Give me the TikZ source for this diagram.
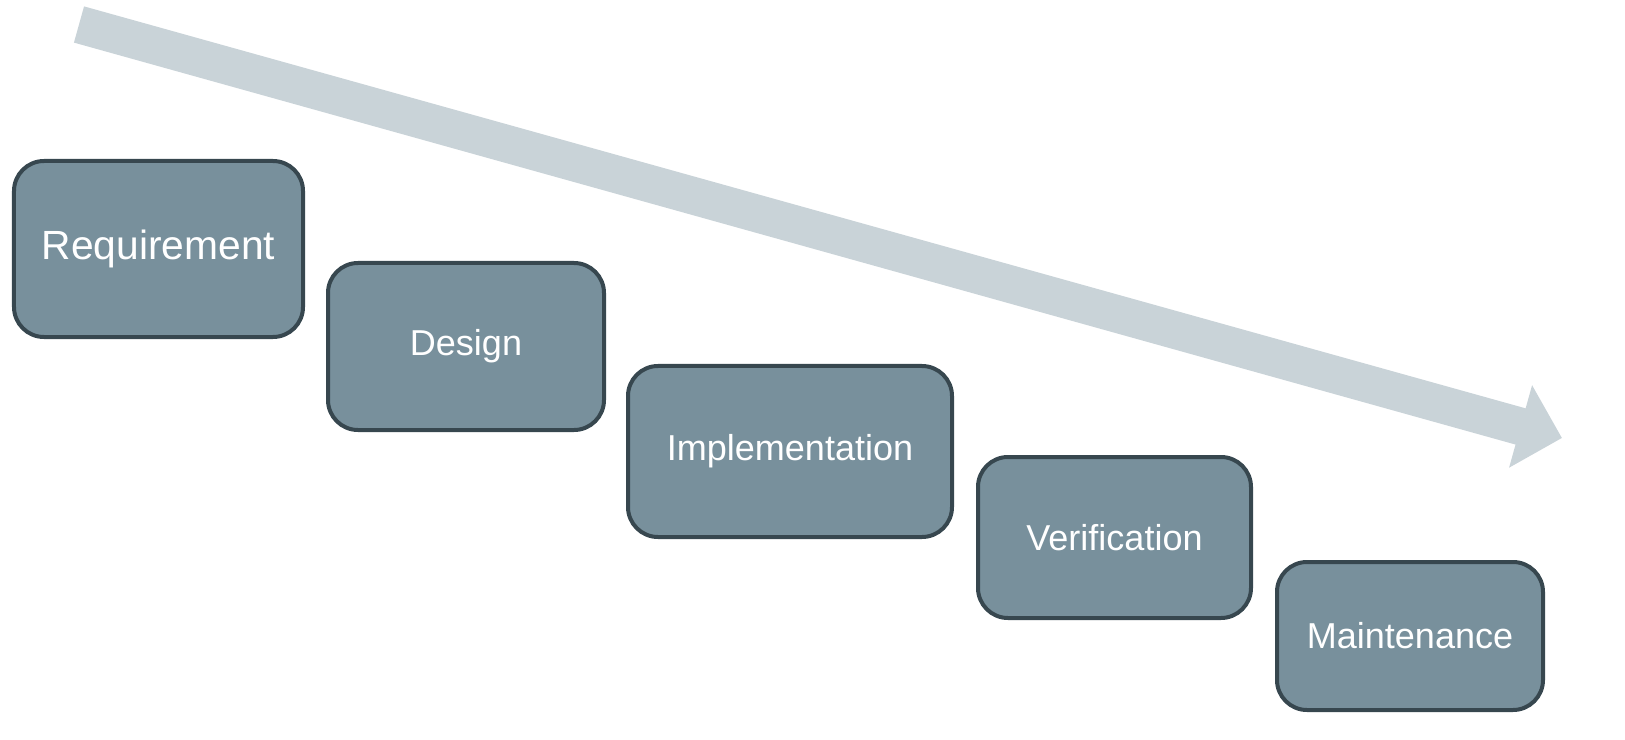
\documentclass[tikz,border=0pt]{standalone}
\usepackage{fontspec}
\setmainfont{Liberation Sans}
\usetikzlibrary{arrows.meta}
\definecolor{flowgray}{RGB}{201,211,216}
\definecolor{phasefill}{RGB}{120,144,156}
\definecolor{phaseline}{RGB}{55,71,79}
\begin{document}
\begin{tikzpicture}[x=0.2mm, y=-0.2mm,%
% common options for the phase boxes:
phase/.style = {rectangle, rounded corners=6mm, draw=phaseline, line width=0.8mm,
            fill=phasefill, text=white, align=center, anchor=center, inner sep=0,
            font=\fontsize{20.5}{24}\selectfont},
% common options for the big arrow:
flow/.style = {draw=flowgray, line width=7.52mm,
            -{Triangle[length=8.6mm, width=16.6mm]}}]
\useasboundingbox (0,0) rectangle (1625,740);
\coordinate (F0) at (79,24.5);
\coordinate (F1) at (1562,438);
\draw[flow] (F0) to (F1);
\node[phase,minimum width=57.8mm,minimum height=35.2mm,font=\fontsize{23.2}{27}\selectfont] (P1) at (158.5,249) {Requirement};
\node[phase,minimum width=55.2mm,minimum height=33.4mm] (P2) at (466,346.5) {Design};
\node[phase,minimum width=64.8mm,minimum height=34.2mm] (P3) at (790,451.5) {Implementation};
\node[phase,minimum width=54.6mm,minimum height=32.2mm] (P4) at (1114.5,537.5) {Verification};
\node[phase,minimum width=53.2mm,minimum height=29.6mm] (P5) at (1410,636) {Maintenance};
\end{tikzpicture}
\end{document}
